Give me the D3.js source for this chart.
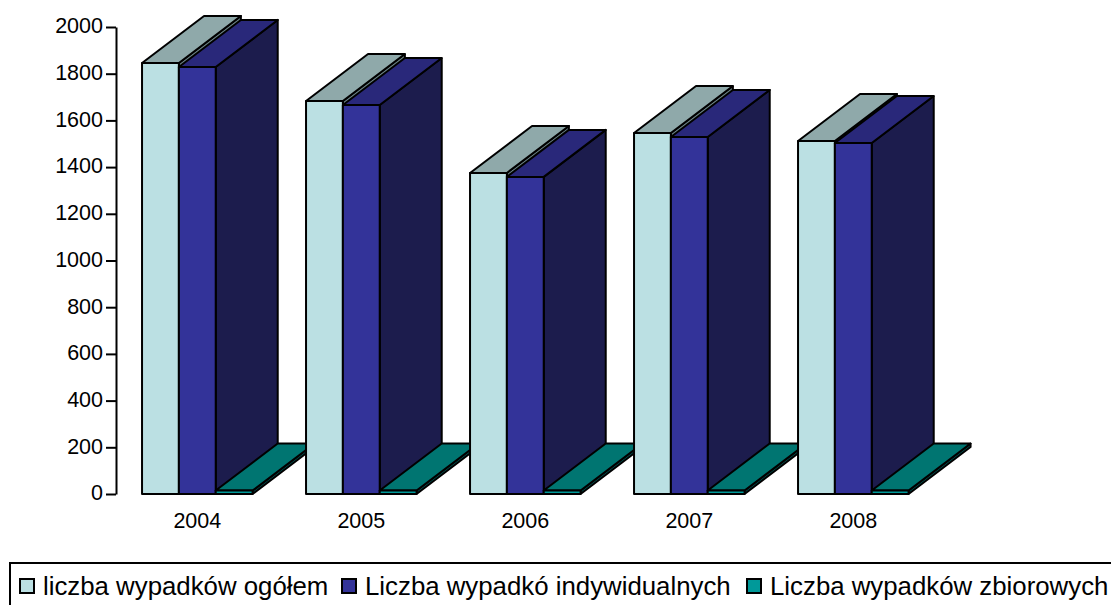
<!DOCTYPE html>
<html lang="en">
<head>
    <meta charset="utf-8"/>
    <title>Wypadki 2004-2008</title>
    <style>
        html, body { margin: 0; padding: 0; background: #fff; overflow: hidden; }
        text { font-family: "Liberation Sans", Arial, sans-serif; fill: #000; }
        .axis path, .axis line { stroke: #000; stroke-width: 2; fill: none; }
        .axis text { font-size: 21.5px; }
        .face { stroke: #000; stroke-width: 2; stroke-linejoin: round; }
    </style>
</head>
<body>
<div id="graph"></div>
<script src="https://d3js.org/d3.v7.min.js"></script>
<script>
    var years = ["2004", "2005", "2006", "2007", "2008"];
    var seriesNames = ["liczba wypadków ogółem", "Liczba wypadkó indywidualnych", "Liczba wypadków zbiorowych"];
    var ogolem = [1846, 1683, 1375, 1546, 1512];
    var indywidualne = [1829, 1666, 1358, 1529, 1503];
    var zbiorowe = [15, 15, 15, 15, 15];
    var yTicks = [0, 200, 400, 600, 800, 1000, 1200, 1400, 1600, 1800, 2000];
    var values = [ogolem, indywidualne, zbiorowe];

    var frontColors = ["#BBE0E3", "#333399", "#009999"];
    var topColors = ["#8FA9AA", "#29287A", "#007571"];
    var sideColors = ["#6B8284", "#1C1C4D", "#00504E"];

    var depthX = 62, depthY = 47;

    var svg = d3.select("#graph").append("svg")
        .attr("width", 1111)
        .attr("height", 605);

    var x = d3.scaleBand().domain(years).range([115.3, 935.3]).paddingInner(0.326).paddingOuter(0.163);
    var xSeries = d3.scaleBand().domain(d3.range(3)).range([0, x.bandwidth()]);
    var y = d3.scaleLinear().domain([0, 2000]).range([494, 27]);

    var line = function (pts) { return "M" + pts.join("L") + "Z"; };

    // groups left to right so the later ones cover the earlier floor pieces
    years.forEach(function (year, i) {
        var g = svg.append("g").attr("class", "group");
        values.forEach(function (vals, s) {
            var x0 = x(year) + xSeries(s),
                x1 = x0 + xSeries.bandwidth(),
                y0 = y(0),
                y1 = y(vals[i]);
            // side
            g.append("path").attr("class", "face").attr("fill", sideColors[s])
                .attr("d", line([[x1, y0], [x1, y1], [x1 + depthX, y1 - depthY], [x1 + depthX, y0 - depthY]]));
            // top
            g.append("path").attr("class", "face").attr("fill", topColors[s])
                .attr("d", line([[x0, y1], [x1, y1], [x1 + depthX, y1 - depthY], [x0 + depthX, y1 - depthY]]));
            // front
            g.append("rect").attr("class", "face").attr("fill", frontColors[s])
                .attr("x", x0).attr("y", y1)
                .attr("width", x1 - x0).attr("height", y0 - y1);
        });
    });

    var yAxis = svg.append("g")
        .attr("class", "axis")
        .attr("transform", "translate(116,0)")
        .call(d3.axisLeft(y).tickValues(yTicks).tickFormat(d3.format("d")).tickSize(10).tickPadding(3).tickSizeOuter(0));
    yAxis.selectAll("text").attr("y", -1);

    svg.append("g").selectAll("text.year")
        .data(years)
        .enter()
        .append("text")
        .attr("class", "year")
        .attr("x", function (d) { return x(d) + x.bandwidth() / 2; })
        .attr("y", 528)
        .attr("text-anchor", "middle")
        .style("font-size", "21.5px")
        .text(function (d) { return d; });

    // legend, the frame runs off the picture on the right and at the bottom
    svg.append("rect")
        .attr("x", 10).attr("y", 563)
        .attr("width", 1120).attr("height", 60)
        .attr("fill", "#fff").attr("stroke", "#000").attr("stroke-width", 2);

    var legendX = [20, 342, 747];
    seriesNames.forEach(function (name, s) {
        svg.append("rect")
            .attr("x", legendX[s]).attr("y", 579)
            .attr("width", 14).attr("height", 14)
            .attr("fill", frontColors[s]).attr("stroke", "#000").attr("stroke-width", 2);
        svg.append("text")
            .attr("x", legendX[s] + 23).attr("y", 595)
            .style("font-size", "25.8px")
            .text(name);
    });
</script>
</body>
</html>
